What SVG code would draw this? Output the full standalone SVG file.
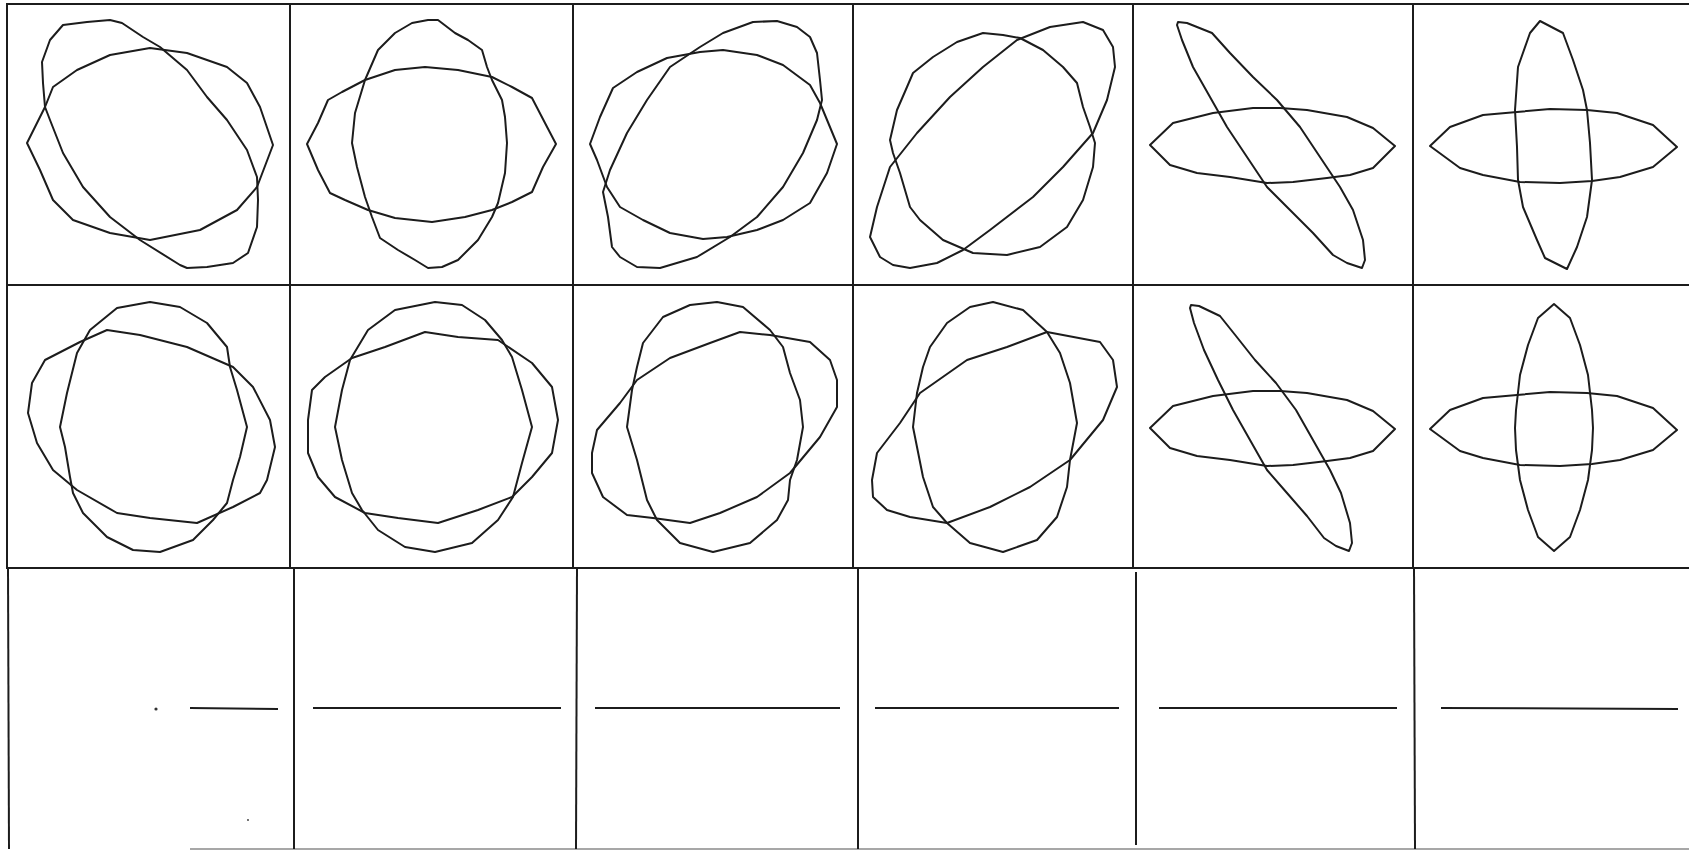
<svg xmlns="http://www.w3.org/2000/svg" width="1689" height="851" viewBox="0 0 1689 851">
<style>
.s{fill:none;stroke:#1c1c1c;stroke-width:2;stroke-linejoin:round;stroke-linecap:round}
.g{fill:none;stroke:#1c1c1c;stroke-width:2}
.f{fill:none;stroke:#8a8a8a;stroke-width:1.6}
.d{fill:#333}
</style>
<rect x="0" y="0" width="1689" height="851" fill="#ffffff"/>
<g id="grid">
<line class="g" x1="6" y1="4" x2="1689" y2="4"/>
<line class="g" x1="6" y1="285" x2="1689" y2="285"/>
<line class="g" x1="6" y1="568" x2="1689" y2="568"/>
<line class="f" x1="190" y1="849" x2="1689" y2="849"/>
<line class="g" x1="7" y1="4" x2="7" y2="568"/>
<line class="g" x1="290" y1="4" x2="290" y2="568"/>
<line class="g" x1="573" y1="4" x2="573" y2="568"/>
<line class="g" x1="853" y1="4" x2="853" y2="568"/>
<line class="g" x1="1133" y1="4" x2="1133" y2="568"/>
<line class="g" x1="1413" y1="4" x2="1413" y2="568"/>
<line class="g" x1="8" y1="568" x2="9" y2="849"/>
<line class="g" x1="294" y1="568" x2="294" y2="849"/>
<line class="g" x1="577" y1="568" x2="576" y2="849"/>
<line class="g" x1="858" y1="568" x2="858" y2="849"/>
<line class="g" x1="1136" y1="572" x2="1136" y2="845"/>
<line class="g" x1="1414" y1="568" x2="1415" y2="849"/>
</g>
<g id="r1c1">
<polygon class="s" points="63,25 87,22 110,20 122,23 143,37 160,47 187,70 207,97 227,120 247,150 257,177 258,200 257,227 248,253 233,263 207,267 187,268 180,265 140,240 110,217 83,187 63,153 50,120 45,107 43,83 42,62 50,40"/>
<polygon class="s" points="27,143 45,107 53,87 77,70 110,55 150,48 187,53 227,67 247,83 260,107 273,145 257,187 237,210 200,230 150,240 110,233 73,220 53,200 40,170"/>
</g>
<g id="r1c2">
<polygon class="s" points="428,20 438,20 455,33 468,40 482,50 487,67 492,80 502,100 505,117 507,143 505,173 498,203 492,217 478,240 458,260 442,267 428,268 415,260 398,250 380,238 372,217 365,197 357,167 352,143 355,113 365,80 378,50 395,33 412,23"/>
<polygon class="s" points="307,144 318,123 328,100 342,92 365,80 395,70 425,67 458,70 492,77 512,87 532,98 545,123 556,144 543,167 532,192 512,202 492,210 465,217 432,222 395,218 368,210 345,200 330,193 318,170"/>
</g>
<g id="r1c3">
<polygon class="s" points="603,192 610,170 627,133 647,100 670,67 700,47 723,33 753,22 777,21 797,27 810,37 817,53 820,80 822,100 817,120 803,153 783,187 757,217 730,237 697,257 660,268 637,267 620,257 612,247 608,217"/>
<polygon class="s" points="590,144 600,117 613,88 637,72 667,58 700,52 723,50 757,55 783,65 810,85 820,103 837,144 827,173 810,203 783,220 757,230 727,237 703,239 670,233 643,220 620,207 607,187 597,160"/>
</g>
<g id="r1c4">
<polygon class="s" points="983,33 1003,35 1020,38 1043,50 1063,67 1077,83 1083,107 1090,127 1095,143 1093,167 1083,200 1067,227 1040,247 1007,255 973,253 943,240 920,220 910,207 900,173 893,153 890,140 897,110 907,87 913,73 933,57 957,42"/>
<polygon class="s" points="870,237 877,207 890,167 917,133 950,97 983,67 1017,40 1050,27 1083,22 1103,30 1113,47 1115,67 1107,100 1093,133 1063,167 1033,197 990,230 963,250 937,263 910,268 893,265 880,257"/>
</g>
<g id="r1c5">
<polygon class="s" points="1178,22 1187,23 1212,33 1230,53 1253,77 1277,100 1300,127 1320,157 1340,187 1353,210 1363,240 1365,260 1362,268 1347,263 1333,255 1313,233 1290,210 1267,187 1247,157 1227,127 1210,97 1193,67 1182,40 1177,25"/>
<polygon class="s" points="1150,145 1173,123 1213,113 1253,108 1280,108 1307,110 1347,117 1373,128 1395,146 1373,168 1350,175 1327,178 1293,182 1267,183 1230,177 1197,173 1170,165"/>
</g>
<g id="r1c6">
<polygon class="s" points="1540,21 1563,33 1573,60 1583,90 1587,110 1590,143 1592,180 1587,217 1577,247 1567,269 1545,258 1537,240 1523,207 1518,180 1517,147 1515,110 1518,67 1530,33"/>
<polygon class="s" points="1430,146 1450,127 1483,115 1517,112 1550,109 1587,110 1617,113 1653,125 1677,147 1653,167 1620,177 1592,181 1560,183 1520,182 1483,175 1460,168"/>
</g>
<g id="r2c1">
<polygon class="s" points="150,302 180,307 207,323 227,347 230,367 237,390 247,427 240,457 233,480 227,503 213,520 193,540 160,552 133,550 107,537 83,513 73,493 70,477 65,447 60,427 67,393 77,353 90,330 117,308"/>
<polygon class="s" points="45,360 80,342 107,330 140,335 187,347 233,367 253,387 270,420 275,447 267,480 260,493 233,507 197,523 150,518 117,513 77,490 53,470 37,443 28,413 32,383"/>
</g>
<g id="r2c2">
<polygon class="s" points="435,302 462,305 485,320 502,340 512,357 522,390 532,427 522,463 513,497 498,520 472,543 435,552 405,547 378,530 362,510 352,493 342,460 335,427 342,390 350,360 368,330 395,310"/>
<polygon class="s" points="308,420 312,390 325,377 352,358 385,347 425,332 458,337 498,340 532,363 552,387 558,420 552,453 532,477 512,497 478,510 438,523 398,518 365,513 335,497 318,477 308,453"/>
</g>
<g id="r2c3">
<polygon class="s" points="717,302 743,307 770,330 783,347 790,373 800,400 803,427 797,460 790,480 788,500 777,520 750,543 713,552 680,543 657,520 647,500 637,460 627,427 632,390 637,367 643,343 663,317 690,305"/>
<polygon class="s" points="592,453 597,430 620,403 637,380 670,358 710,343 740,332 770,335 810,342 830,360 837,380 837,407 820,437 790,473 757,497 720,513 690,523 653,518 627,515 603,497 592,473"/>
</g>
<g id="r2c4">
<polygon class="s" points="993,302 1023,310 1047,332 1060,353 1070,383 1077,423 1070,460 1067,487 1057,517 1037,540 1003,552 970,543 947,523 933,507 923,477 913,427 917,393 923,367 930,347 947,323 970,307"/>
<polygon class="s" points="872,480 877,453 900,423 920,393 967,360 1007,347 1047,332 1100,342 1113,360 1117,387 1103,420 1070,460 1030,487 990,507 947,523 910,517 887,510 873,497"/>
</g>
<g id="r2c5">
<polygon class="s" points="1191,305 1199,306 1220,316 1236,336 1255,360 1276,383 1296,410 1313,440 1330,470 1341,493 1350,523 1352,543 1349,551 1336,546 1324,538 1307,516 1287,493 1267,470 1250,440 1233,410 1218,380 1204,350 1194,323 1190,308"/>
<polygon class="s" points="1150,428 1173,406 1213,396 1253,391 1280,391 1307,393 1347,400 1373,411 1395,429 1373,451 1350,458 1327,461 1293,465 1267,466 1230,460 1197,456 1170,448"/>
</g>
<g id="r2c6">
<polygon class="s" points="1554,304 1570,318 1580,345 1588,375 1592,410 1593,428 1592,450 1588,480 1580,510 1570,537 1554,551 1538,537 1528,510 1520,480 1516,450 1515,428 1516,410 1520,375 1528,345 1538,318"/>
<polygon class="s" points="1430,429 1450,410 1483,398 1517,395 1550,392 1587,393 1617,396 1653,408 1677,430 1653,450 1620,460 1592,464 1560,466 1520,465 1483,458 1460,451"/>
</g>
<g id="row3">
<circle class="d" cx="156" cy="709" r="1.6"/>
<circle class="d" cx="248" cy="820" r="0.9"/>
<line class="g" x1="190" y1="708" x2="278" y2="709"/>
<line class="g" x1="313" y1="708" x2="561" y2="708"/>
<line class="g" x1="595" y1="708" x2="840" y2="708"/>
<line class="g" x1="875" y1="708" x2="1119" y2="708"/>
<line class="g" x1="1159" y1="708" x2="1397" y2="708"/>
<line class="g" x1="1441" y1="708" x2="1678" y2="709"/>
</g>
</svg>
